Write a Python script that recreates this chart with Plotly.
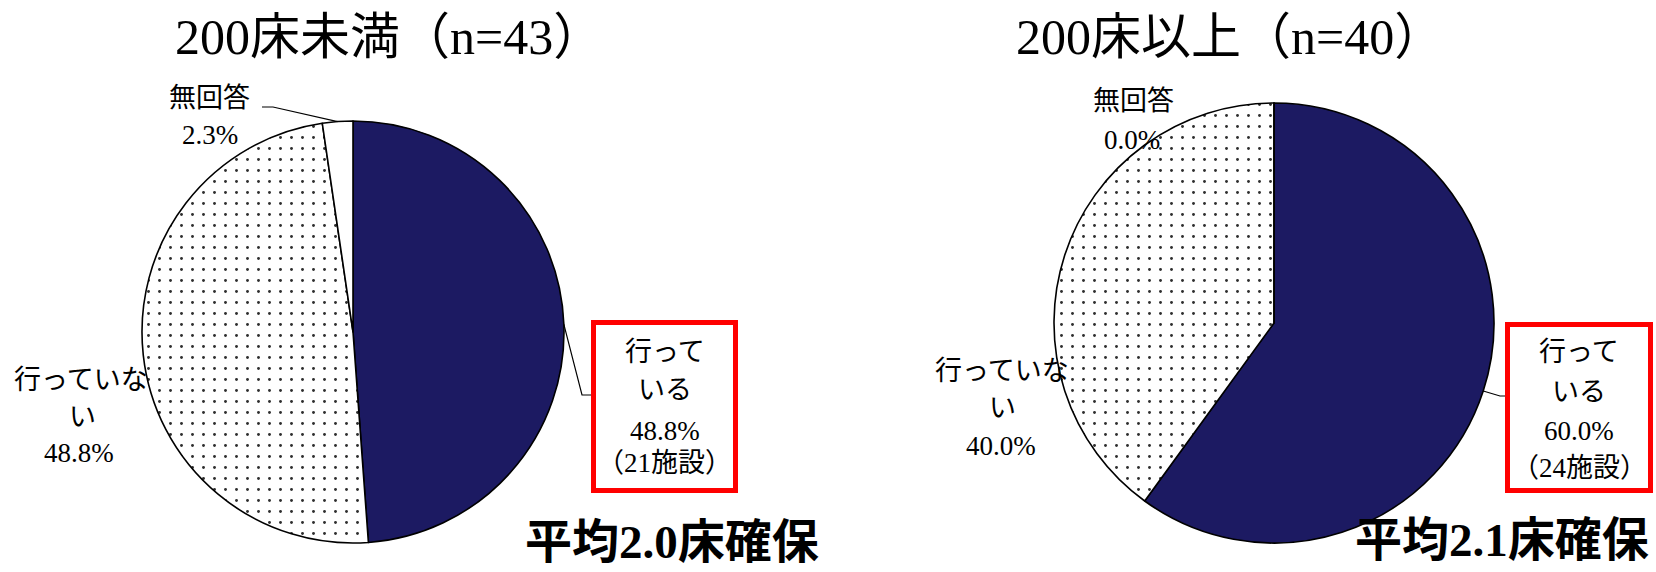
import math
import plotly.graph_objects as go

W, H = 1656, 572

# ---- data -------------------------------------------------------------
categories = ["行っている", "行っていない", "無回答"]
group_titles = ["200床未満", "200床以上"]
counts_small = [21, 21, 1]   # 200床未満 (n=43)
counts_large = [24, 16, 0]   # 200床以上 (n=40)
avg_beds = [2.0, 2.1]        # 平均確保床数

# ---- styling ----------------------------------------------------------
FONT = "Liberation Serif, Noto Sans CJK JP"
NAVY = "#1C1A62"
slice_colors = [NAVY, "#FFFFFF", "#FFFFFF"]
slice_patterns = ["", ".", ""]


def px(x):
    return x / W


def py(y):
    return 1 - y / H


def pct(c, counts):
    return f"{100 * c / sum(counts):.1f}%"


def edge_point(counts, idx, cx, cy, r):
    """Point on the rim at the middle of slice idx (clockwise from 12 o'clock)."""
    n = sum(counts)
    mid = (sum(counts[:idx]) + counts[idx] / 2) / n
    t = 2 * math.pi * mid
    return cx + r * math.sin(t), cy - r * math.cos(t)


def pie(values, cx, cy, r):
    return go.Pie(
        labels=categories,
        values=values,
        sort=False,
        direction="clockwise",
        rotation=0,
        marker=dict(
            colors=slice_colors,
            line=dict(color="black", width=1.6),
            pattern=dict(shape=slice_patterns, fgcolor="#2e2e2e",
                         bgcolor="#FFFFFF", size=11, solidity=0.055),
        ),
        textinfo="none",
        hoverinfo="skip",
        showlegend=False,
        domain=dict(x=[px(cx - r), px(cx + r)], y=[py(cy + r), py(cy - r)]),
    )


annotations = []
shapes = []


def label(text, x, y, size=27, anchor="center"):
    annotations.append(dict(
        text=text, x=px(x), y=py(y), xref="paper", yref="paper",
        xanchor=anchor, yanchor="middle", showarrow=False,
        font=dict(family=FONT, size=size, color="black"),
    ))


def leader(points):
    d = "M " + " L ".join(f"{px(x)},{py(y)}" for x, y in points)
    shapes.append(dict(type="path", path=d, xref="paper", yref="paper",
                       line=dict(color="black", width=1.2)))


def red_box(x0, y0, x1, y1):
    shapes.append(dict(type="rect", xref="paper", yref="paper",
                       x0=px(x0), x1=px(x1), y0=py(y1), y1=py(y0),
                       line=dict(color="#FF0000", width=5),
                       fillcolor="rgba(0,0,0,0)"))


# ---- left pie: 200床未満 ----------------------------------------------
L_CX, L_CY, L_R = 353, 332, 211
label(f"{group_titles[0]}（n={sum(counts_small)}）", 173, 37, size=50, anchor="left")

label(categories[2], 209, 98)
label(pct(counts_small[2], counts_small), 210, 135)
ex, ey = edge_point(counts_small, 2, L_CX, L_CY, L_R)
leader([(262, 107), (273, 107), (ex, ey)])

label(categories[1][:5], 81, 380)
label(categories[1][5:], 82, 417)
label(pct(counts_small[1], counts_small), 79, 453)

red_box(593.5, 322.5, 735.5, 490.5)
label(categories[0][:3], 664.5, 352)
label(categories[0][3:], 664.5, 390)
label(pct(counts_small[0], counts_small), 664.5, 431)
label(f"（{counts_small[0]}施設）", 664.5, 463)
ex, ey = edge_point(counts_small, 0, L_CX, L_CY, L_R)
leader([(ex, ey), (582, 395), (591, 395)])

label(f"<b>平均{avg_beds[0]:.1f}床確保</b>", 523, 542, size=47, anchor="left")

# ---- right pie: 200床以上 ---------------------------------------------
R_CX, R_CY, R_R = 1274, 323, 220
label(f"{group_titles[1]}（n={sum(counts_large)}）", 1014, 37, size=50, anchor="left")

label(categories[2], 1133, 101)
label(pct(counts_large[2], counts_large), 1132, 140)

label(categories[1][:5], 1002, 371)
label(categories[1][5:], 1002, 408)
label(pct(counts_large[1], counts_large), 1001, 446)

red_box(1507.5, 324.5, 1650.5, 490.5)
label(categories[0][:3], 1579, 352)
label(categories[0][3:], 1579, 392)
label(pct(counts_large[0], counts_large), 1579, 431)
label(f"（{counts_large[0]}施設）", 1579, 468)
ex, ey = edge_point(counts_large, 0, R_CX, R_CY, R_R)
leader([(ex, ey), (1500, 396), (1505, 396)])

label(f"<b>平均{avg_beds[1]:.1f}床確保</b>", 1353, 540, size=47, anchor="left")

fig = go.Figure([pie(counts_small, L_CX, L_CY, L_R),
                 pie(counts_large, R_CX, R_CY, R_R)])
fig.update_layout(
    width=W, height=H, autosize=False,
    margin=dict(l=0, r=0, t=0, b=0),
    paper_bgcolor="white", plot_bgcolor="white",
    font=dict(family=FONT, color="black"),
    annotations=annotations,
    shapes=shapes,
)
fig.write_html("out.html")
